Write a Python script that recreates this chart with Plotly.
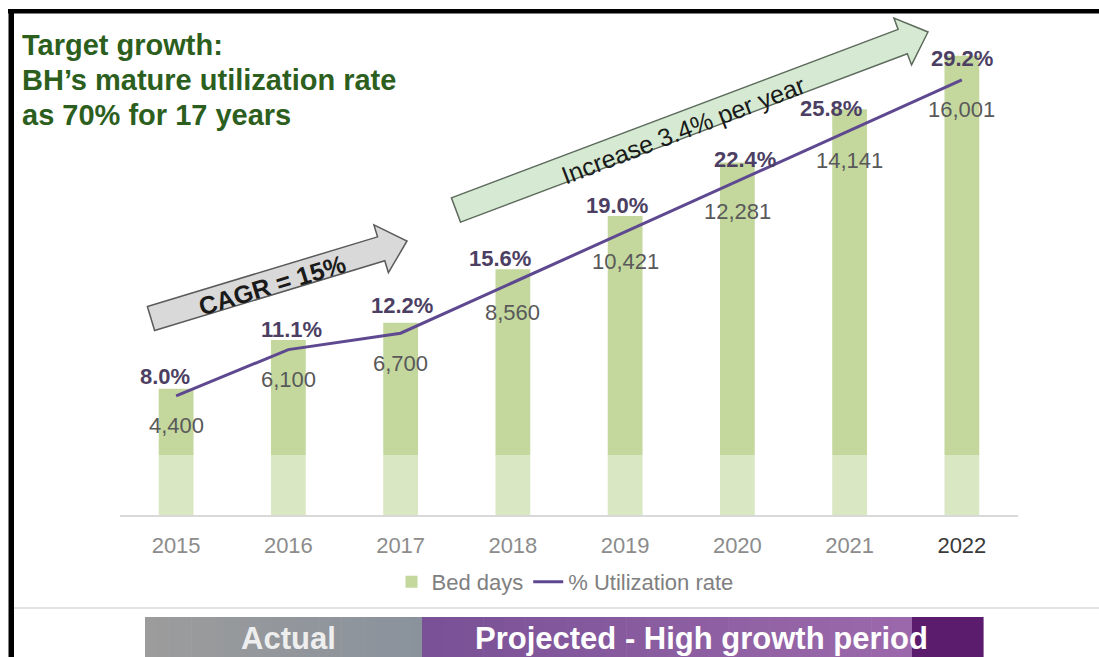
import math
import plotly.graph_objects as go

# ---- data -----------------------------------------------------------------
years = ["2015", "2016", "2017", "2018", "2019", "2020", "2021", "2022"]
bed_days = [4400, 6100, 6700, 8560, 10421, 12281, 14141, 16001]
utilization_pct = [8.0, 11.1, 12.2, 15.6, 19.0, 22.4, 25.8, 29.2]
tick_labels = ["2015", "2016", "2017", "2018", "2019", "2020", "2021", "2022"]

# small label nudges (px) so the percent labels sit as in the slide
pct_dx = [-11, 3, 1, -13, -8, 8, -19, 0]
pct_dy = [19, 20, 28, 24, 26, 22, 22, 21]

W, H = 1099, 657
FONT = "Liberation Sans, Arial, sans-serif"


def px(x, y):
    """Pixel position -> paper fraction (margins are zero)."""
    return x / W, 1 - y / H


def arrow_path(tail, tip, shaft_hw, head_hw, head_len):
    (x0, y0), (x1, y1) = tail, tip
    L = math.hypot(x1 - x0, y1 - y0)
    ux, uy = (x1 - x0) / L, (y1 - y0) / L
    nx, ny = -uy, ux
    bx, by = x1 - ux * head_len, y1 - uy * head_len
    pts = [
        (x0 + nx * shaft_hw, y0 + ny * shaft_hw),
        (bx + nx * shaft_hw, by + ny * shaft_hw),
        (bx + nx * head_hw, by + ny * head_hw),
        (x1, y1),
        (bx - nx * head_hw, by - ny * head_hw),
        (bx - nx * shaft_hw, by - ny * shaft_hw),
        (x0 - nx * shaft_hw, y0 - ny * shaft_hw),
    ]
    p = [px(a, b) for a, b in pts]
    return "M " + " L ".join(f"{a:.5f},{b:.5f}" for a, b in p) + " Z"


def lerp_color(c0, c1, t):
    return "rgb({},{},{})".format(*[round(a + (b - a) * t) for a, b in zip(c0, c1)])


fig = go.Figure()

fig.add_trace(go.Bar(
    x=years, y=bed_days, name="Bed days",
    marker=dict(color="#c4d89e", line=dict(width=0)),
    yaxis="y", hoverinfo="skip",
))
fig.add_trace(go.Scatter(
    x=years, y=utilization_pct, name="% Utilization rate",
    mode="lines", line=dict(color="#5e4890", width=3),
    yaxis="y2", hoverinfo="skip",
))

annotations = []

# percent labels above the line, bed-day labels below it
for i, (v, b) in enumerate(zip(utilization_pct, bed_days)):
    annotations.append(dict(
        x=i, y=v, xref="x", yref="y2", text=f"{v:.1f}%", showarrow=False,
        xshift=pct_dx[i], yshift=pct_dy[i], xanchor="center", yanchor="middle",
        font=dict(family=FONT, size=22, color="#4c3f63", weight="bold"),
    ))
    annotations.append(dict(
        x=i, y=v, xref="x", yref="y2", text=f"{b:,}", showarrow=False,
        yshift=-30, xanchor="center", yanchor="middle",
        font=dict(family=FONT, size=22, color="#595959"),
    ))

# headline
for txt, yy in [("Target growth:", 45), ("BH\u2019s mature utilization rate", 80),
                ("as 70% for 17 years", 115)]:
    xp, yp = px(20, yy)
    annotations.append(dict(
        x=xp, y=yp, xref="paper", yref="paper", text=txt, showarrow=False,
        xanchor="left", yanchor="middle",
        font=dict(family=FONT, size=29, color="#2c5f1e", weight="bold"),
    ))

# arrow captions
xp, yp = px(272, 285)
annotations.append(dict(
    x=xp, y=yp, xref="paper", yref="paper", text="CAGR = 15%", showarrow=False,
    xanchor="center", yanchor="middle", textangle=-17,
    font=dict(family=FONT, size=25, color="#1a1a1a", weight="bold"),
))
xp, yp = px(683, 130)
annotations.append(dict(
    x=xp, y=yp, xref="paper", yref="paper", text="Increase 3.4% per year",
    showarrow=False, xanchor="center", yanchor="middle", textangle=-21,
    font=dict(family=FONT, size=25, color="#1a1a1a"),
))

# period band captions
xp, yp = px(288, 638)
annotations.append(dict(
    x=xp, y=yp, xref="paper", yref="paper", text="Actual", showarrow=False,
    xanchor="center", yanchor="middle",
    font=dict(family=FONT, size=31, color="#eeeeee", weight="bold"),
))
xp, yp = px(701, 638)
annotations.append(dict(
    x=xp, y=yp, xref="paper", yref="paper", text="Projected - High growth period",
    showarrow=False, xanchor="center", yanchor="middle",
    font=dict(family=FONT, size=31, color="#ffffff", weight="bold"),
))

shapes = []

# faded lower part of the bars
x0p, y0p = px(120, 455)
x1p, y1p = px(1018, 515)
shapes.append(dict(type="rect", xref="paper", yref="paper", x0=x0p, x1=x1p,
                   y0=y1p, y1=y0p, fillcolor="rgba(255,255,255,0.38)",
                   line=dict(width=0), layer="above"))

# arrows
shapes.append(dict(type="path", xref="paper", yref="paper",
                   path=arrow_path((151, 318.5), (407, 241), 12.5, 25, 27),
                   fillcolor="#d9d9d9", line=dict(color="#5a5a5a", width=1.5),
                   layer="below"))
shapes.append(dict(type="path", xref="paper", yref="paper",
                   path=arrow_path((456, 210), (928, 32), 13, 25, 27),
                   fillcolor="#d6ead3", line=dict(color="#5d6b5d", width=1.5),
                   layer="below"))


def band(xa, xb, c0, c1, n=24):
    for k in range(n):
        a = xa + (xb - xa) * k / n
        b = xa + (xb - xa) * (k + 1) / n + 0.6
        pa, py0 = px(a, 617)
        pb, py1 = px(b, 657)
        shapes.append(dict(type="rect", xref="paper", yref="paper",
                           x0=pa, x1=pb, y0=py1, y1=py0,
                           fillcolor=lerp_color(c0, c1, (k + 0.5) / n),
                           line=dict(width=0), layer="below"))


band(145, 422, (156, 156, 156), (138, 146, 156))
band(422, 912, (121, 80, 150), (156, 106, 171))
band(912, 983, (92, 28, 110), (92, 28, 110), n=1)

# separator line above the band
a, b = px(14, 608)
c, d = px(1099, 608)
shapes.append(dict(type="line", xref="paper", yref="paper", x0=a, y0=b, x1=c, y1=d,
                   line=dict(color="#e2e2e2", width=2), layer="below"))

# black frame (top and left)
a, b = px(8, 9)
c, d = px(1099, 13.5)
shapes.append(dict(type="rect", xref="paper", yref="paper", x0=a, x1=c, y0=d, y1=b,
                   fillcolor="#000000", line=dict(width=0), layer="above"))
a, b = px(8.5, 9)
c, d = px(14, 657)
shapes.append(dict(type="rect", xref="paper", yref="paper", x0=a, x1=c, y0=d, y1=b,
                   fillcolor="#000000", line=dict(width=0), layer="above"))

tick_text = [t if t != "2022" else f"<span style='color:#3a3a3a'>{t}</span>"
             for t in tick_labels]

y_top_px, base_px = 40, 515
hidden_axis = dict(showgrid=False, zeroline=False, showline=False,
                   showticklabels=False, ticks="")
fig.update_layout(
    width=W, height=H,
    margin=dict(l=0, r=0, t=0, b=0),
    paper_bgcolor="white", plot_bgcolor="white",
    bargap=0.69,
    showlegend=True,
    legend=dict(orientation="h", x=565 / W, xanchor="center",
                y=1 - 582 / H, yanchor="middle",
                font=dict(family=FONT, size=22, color="#808080"),
                bgcolor="rgba(0,0,0,0)", itemwidth=30, traceorder="normal"),
    xaxis=dict(type="category", domain=[120 / W, 1018 / W], range=[-0.5, 7.5],
               tickvals=years, ticktext=tick_text, showgrid=False,
               showline=True, linecolor="#d9d9d9", linewidth=1.5, ticks="",
               ticklabelstandoff=10,
               tickfont=dict(family=FONT, size=22, color="#8c8c8c")),
    yaxis=dict(domain=[1 - base_px / H, 1 - y_top_px / H],
               range=[0, (base_px - y_top_px) / 0.0287], **hidden_axis),
    yaxis2=dict(domain=[1 - base_px / H, 1 - y_top_px / H], overlaying="y",
                side="right", range=[0, (base_px - y_top_px) / 14.9],
                **hidden_axis),
    annotations=annotations,
    shapes=shapes,
)

fig.write_html("out.html")
